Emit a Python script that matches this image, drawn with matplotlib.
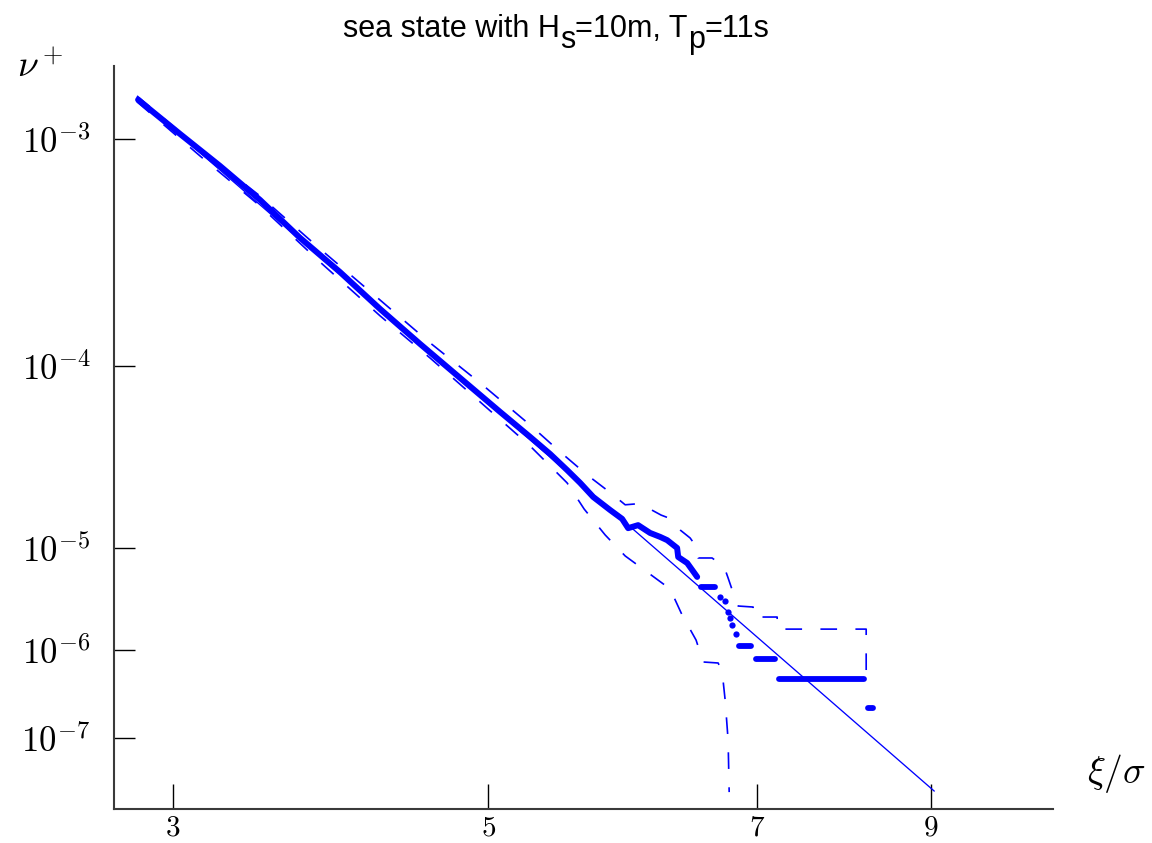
import numpy as np
import matplotlib
matplotlib.use('Agg')
import matplotlib.pyplot as plt

plt.rcParams['mathtext.fontset'] = 'cm'
plt.rcParams['font.family'] = ['Liberation Sans', 'DejaVu Sans']

# tick values and where they sit along each axis (axes are hand spaced)
x_ticks = [3, 5, 7, 9]
x_tick_pos = [173, 488, 757, 931]
y_ticks = [1e-3, 1e-4, 1e-5, 1e-6, 1e-7]
y_tick_pos = [139.5, 365.7, 547.7, 650.0, 737.7]

# fitted straight line
fit_xi = [2.771, 9.034]
fit_nu = [1.526e-3, 2.47e-8]

# empirical up-crossing rate, continuous part
emp_xi = [2.778, 3.044, 3.298, 3.552, 3.806, 4.060, 4.314, 4.568, 4.822, 5.089,
          5.312, 5.461, 5.587, 5.684, 5.781, 5.907, 5.996, 6.041, 6.115, 6.204,
          6.279, 6.331, 6.405, 6.413, 6.480, 6.554]
emp_nu = [1.496e-3, 1.057e-3, 7.63e-4, 5.40e-4, 3.67e-4, 2.59e-4, 1.78e-4, 1.247e-4, 8.56e-5, 5.57e-5,
          4.06e-5, 3.27e-5, 2.67e-5, 2.27e-5, 1.90e-5, 1.61e-5, 1.44e-5, 1.28e-5, 1.33e-5, 1.205e-5,
          1.146e-5, 1.10e-5, 9.93e-6, 8.11e-6, 7.08e-6, 5.18e-6]

# tail: flat runs of equal rate
run_xi0 = [6.58, 6.866, 6.993, 7.253, 8.276]
run_xi1 = [6.69, 6.955, 7.207, 8.230, 8.333]
run_nu = [4.13e-6, 1.094e-6, 7.89e-7, 4.67e-7, 2.18e-7]

# tail: isolated points
tail_xi = [6.725, 6.762, 6.784, 6.799, 6.814, 6.844]
tail_nu = [3.30e-6, 3.01e-6, 2.35e-6, 2.05e-6, 1.75e-6, 1.43e-6]

# confidence band
upper_xi = [2.771, 3.171, 3.552, 3.933, 4.314, 4.632, 4.949, 5.312, 5.535, 5.736,
            5.922, 6.019, 6.100, 6.190, 6.286, 6.338, 6.428, 6.502, 6.554, 6.561,
            6.665, 6.755, 6.784, 6.822, 6.859, 6.970, 6.970, 7.230, 7.230, 8.253, 8.253]
upper_nu = [1.556e-3, 9.08e-4, 5.62e-4, 3.28e-4, 1.95e-4, 1.26e-4, 8.04e-5, 4.72e-5, 3.36e-5, 2.51e-5,
            1.97e-5, 1.72e-5, 1.74e-5, 1.65e-5, 1.51e-5, 1.46e-5, 1.25e-5, 1.13e-5, 9.93e-6, 7.93e-6,
            7.93e-6, 6.48e-6, 5.06e-6, 3.61e-6, 2.69e-6, 2.63e-6, 2.10e-6, 2.10e-6, 1.60e-6, 1.60e-6, 5.61e-7]
lower_xi = [2.771, 3.171, 3.552, 3.933, 4.314, 4.632, 4.949, 5.312, 5.587, 5.714,
            5.870, 6.019, 6.182, 6.353, 6.442, 6.546, 6.599, 6.710, 6.740, 6.762,
            6.784, 6.792]
lower_nu = [1.466e-3, 8.45e-4, 5.08e-4, 2.87e-4, 1.66e-4, 1.08e-4, 6.32e-5, 3.62e-5, 2.27e-5, 1.63e-5,
            1.175e-5, 8.30e-6, 5.78e-6, 3.95e-6, 2.20e-6, 1.25e-6, 7.30e-7, 7.11e-7, 5.61e-7, 2.69e-7,
            9.42e-8, 2.40e-8]


def interp_ext(v, xp, fp):
    v = np.asarray(v, dtype=float)
    out = np.interp(v, xp, fp)
    lo = v < xp[0]
    hi = v > xp[-1]
    out = np.where(lo, fp[0] + (v - xp[0]) * (fp[1] - fp[0]) / (xp[1] - xp[0]), out)
    out = np.where(hi, fp[-1] + (v - xp[-1]) * (fp[-1] - fp[-2]) / (xp[-1] - xp[-2]), out)
    return out


xk = np.array(x_ticks, float)
xp = np.array(x_tick_pos, float)
yk = np.log10(y_ticks)[::-1]
yp = -np.array(y_tick_pos, float)[::-1]


def fwd_x(v):
    return interp_ext(v, xk, xp)


def inv_x(p):
    return interp_ext(p, xp, xk)


def fwd_y(v):
    return interp_ext(np.log10(np.clip(np.asarray(v, float), 1e-300, None)), yk, yp)


def inv_y(p):
    return 10 ** interp_ext(p, yp, yk)


W, H = 1152, 843
fig = plt.figure(figsize=(W / 100, H / 100), dpi=100)
ax = fig.add_axes([114 / W, 1 - 809 / H, (1053 - 114) / W, (809 - 66) / H])
ax.set_xscale('function', functions=(fwd_x, inv_x))
ax.set_yscale('function', functions=(fwd_y, inv_y))
ax.set_xlim(2.625, 10.40)
ax.set_ylim(1.54e-8, 2.11e-3)

blue = '#0000ff'
ax.plot(fit_xi, fit_nu, color=blue, lw=0.95)
ax.plot(upper_xi, upper_nu, color=blue, lw=1.2, dashes=(10, 11))
ax.plot(lower_xi, lower_nu, color=blue, lw=1.2, dashes=(10, 11))
ax.plot(emp_xi, emp_nu, color=blue, lw=4.3, solid_capstyle='round', solid_joinstyle='round')
for x0, x1, nu in zip(run_xi0, run_xi1, run_nu):
    ax.plot([x0, x1], [nu, nu], color=blue, lw=4.2, solid_capstyle='round')
ax.plot(tail_xi, tail_nu, 'o', color=blue, ms=4.5, mec='none')

for side in ['top', 'right']:
    ax.spines[side].set_visible(False)
for side in ['left', 'bottom']:
    ax.spines[side].set_color('#3a3a3a')
    ax.spines[side].set_linewidth(1.5)

ax.set_xticks(x_ticks)
ax.set_xticklabels([r'$%d$' % t for t in x_ticks], fontsize=21)
ax.set_yticks(y_ticks)
ax.set_yticklabels([r'$10^{%d}$' % np.log10(t) for t in y_ticks], fontsize=25)
ax.xaxis.set_minor_locator(matplotlib.ticker.NullLocator())
ax.yaxis.set_minor_locator(matplotlib.ticker.NullLocator())
ax.tick_params(axis='x', direction='in', length=18, width=1.0, color='black', pad=3)
ax.tick_params(axis='y', direction='in', length=15, width=1.0, color='black', pad=17)

fig.text(17 / W, 1 - 77 / H, r'$\nu^+$', fontsize=27, va='baseline', ha='left')
fig.text(1087 / W, 1 - 783 / H, r'$\xi/\sigma$', fontsize=27, va='baseline', ha='left')

# title with full-size lowered subscripts
fs = 22
t1 = fig.text(343 / W, 1 - 37 / H, 'sea state with H', fontsize=fs, va='baseline', ha='left')
t2 = ax.annotate('s', xy=(1, 0), xycoords=t1, xytext=(0, -8), textcoords='offset points',
                 fontsize=fs, va='bottom', ha='left', annotation_clip=False)
t3 = ax.annotate('=10m, T', xy=(1, 0), xycoords=(t2, t1), fontsize=fs, va='bottom', ha='left',
                 annotation_clip=False)
t4 = ax.annotate('p', xy=(1, 0), xycoords=t3, xytext=(0, -8), textcoords='offset points',
                 fontsize=fs, va='bottom', ha='left', annotation_clip=False)
ax.annotate('=11s', xy=(1, 0), xycoords=(t4, t1), fontsize=fs, va='bottom', ha='left',
            annotation_clip=False)

fig.savefig('out.png', dpi=100)
